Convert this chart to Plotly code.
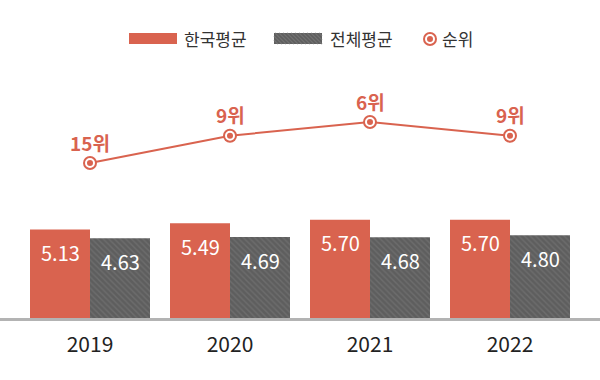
import plotly.graph_objects as go

years = ["2019", "2020", "2021", "2022"]
korea_avg = [5.13, 5.49, 5.70, 5.70]
total_avg = [4.63, 4.69, 4.68, 4.80]
ranks = [15, 9, 6, 9]
rank_labels = [f"{r}위" for r in ranks]

RED = "#D9634F"
GREY = "#606060"
FONT = "Noto Sans CJK KR"
W, H = 600, 380
T, B = 0, 62
PH = H - T - B  # plot height in px

fig = go.Figure()

fig.add_trace(go.Bar(
    x=years, y=korea_avg, name="한국평균",
    marker=dict(color=RED, line=dict(width=0)),
    showlegend=False, hoverinfo="skip",
))
fig.add_trace(go.Bar(
    x=years, y=total_avg, name="전체평균",
    marker=dict(color=GREY, line=dict(width=0),
                pattern=dict(shape="\\", fgcolor="#6d6d6d", bgcolor="#5e5e5e",
                             size=4, solidity=0.35, fillmode="replace")),
    showlegend=False, hoverinfo="skip",
))
fig.add_trace(go.Scatter(
    x=years, y=ranks, yaxis="y2", mode="lines+markers", name="순위",
    line=dict(color=RED, width=2),
    marker=dict(size=14, color=RED),
    showlegend=False, hoverinfo="skip",
))
fig.add_trace(go.Scatter(
    x=years, y=ranks, yaxis="y2", mode="markers",
    marker=dict(size=8, color=RED, line=dict(color="white", width=2)),
    showlegend=False, hoverinfo="skip",
))

annotations = []
for i, v in enumerate(korea_avg):
    annotations.append(dict(x=i, y=v, xref="x", yref="y", text=f"{v:.2f}",
                            showarrow=False, xshift=-30, yshift=-23,
                            font=dict(family=FONT, size=20, color="white")))
for i, v in enumerate(total_avg):
    annotations.append(dict(x=i, y=v, xref="x", yref="y", text=f"{v:.2f}",
                            showarrow=False, xshift=30, yshift=-23,
                            font=dict(family=FONT, size=20, color="white")))
for i, (r, lab) in enumerate(zip(ranks, rank_labels)):
    annotations.append(dict(x=i, y=r, xref="x", yref="y2", text=f"<b>{lab}</b>",
                            showarrow=False, yshift=21,
                            font=dict(family=FONT, size=19, color=RED)))

# manual legend
def px_x(p):
    return p / W

def px_y(p):
    return 1 - (p - T) / PH

legend_y = 39
for txt, xpos in [("한국평균", 182), ("전체평균", 328), ("순위", 440)]:
    annotations.append(dict(x=px_x(xpos), y=px_y(legend_y), xref="paper", yref="paper",
                            text=txt, showarrow=False, xanchor="left", yanchor="middle",
                            font=dict(family=FONT, size=17, color="#333333")))

shapes = []
shapes.append(dict(type="rect", xref="paper", yref="paper",
                   x0=px_x(129), x1=px_x(177), y0=px_y(44), y1=px_y(33),
                   fillcolor=RED, line=dict(width=0)))
shapes.append(dict(type="rect", xref="paper", yref="paper",
                   x0=px_x(274), x1=px_x(322), y0=px_y(44), y1=px_y(33),
                   fillcolor="#5e5e5e", line=dict(width=0)))
# hatch lines in grey swatch
path = ""
x0s, x1s, ytop, ybot = 274, 322, 33, 44
hh = ybot - ytop
k = x0s - hh
while k < x1s:
    ax, ay = k, ytop
    bx, by = k + hh, ybot
    if ax < x0s:
        ay = ytop + (x0s - ax)
        ax = x0s
    if bx > x1s:
        by = ybot - (bx - x1s)
        bx = x1s
    path += f"M{px_x(ax)},{px_y(ay)}L{px_x(bx)},{px_y(by)}"
    k += 4
shapes.append(dict(type="path", xref="paper", yref="paper", path=path,
                   line=dict(color="#717171", width=1.2)))
# legend marker
cx, cy = 430, 39
shapes.append(dict(type="circle", xref="paper", yref="paper",
                   x0=px_x(cx - 7), x1=px_x(cx + 7), y0=px_y(cy + 7), y1=px_y(cy - 7),
                   fillcolor=RED, line=dict(width=0)))
shapes.append(dict(type="circle", xref="paper", yref="paper",
                   x0=px_x(cx - 4), x1=px_x(cx + 4), y0=px_y(cy + 4), y1=px_y(cy - 4),
                   fillcolor=RED, line=dict(color="white", width=2)))
# baseline
shapes.append(dict(type="line", xref="paper", yref="paper", x0=0, x1=1,
                   y0=px_y(319.5), y1=px_y(319.5),
                   line=dict(color="#b3b3b3", width=3)))

hidden_axis = dict(showgrid=False, zeroline=False, showline=False,
                   showticklabels=False, ticks="", fixedrange=True)

fig.update_layout(
    width=W, height=H,
    margin=dict(l=0, r=0, t=T, b=B),
    paper_bgcolor="white", plot_bgcolor="white",
    barmode="group", bargap=20 / 140, bargroupgap=0,
    xaxis=dict(type="category", range=[-90 / 140, 3 + 90 / 140], showgrid=False,
               zeroline=False, showline=False, ticks="", ticklabelstandoff=12,
               tickfont=dict(family=FONT, size=21, color="#222222"),
               fixedrange=True),
    yaxis=dict(range=[0, PH / 17.25], **hidden_axis),
    yaxis2=dict(range=[6 + (318 - 122) / 4.56, 6 - 122 / 4.56], overlaying="y",
                **hidden_axis),
    annotations=annotations,
    shapes=shapes,
    showlegend=False,
)

fig.write_html("out.html", config={"displayModeBar": False},
               post_script="document.body.style.margin='0px';document.body.style.padding='0px';")
